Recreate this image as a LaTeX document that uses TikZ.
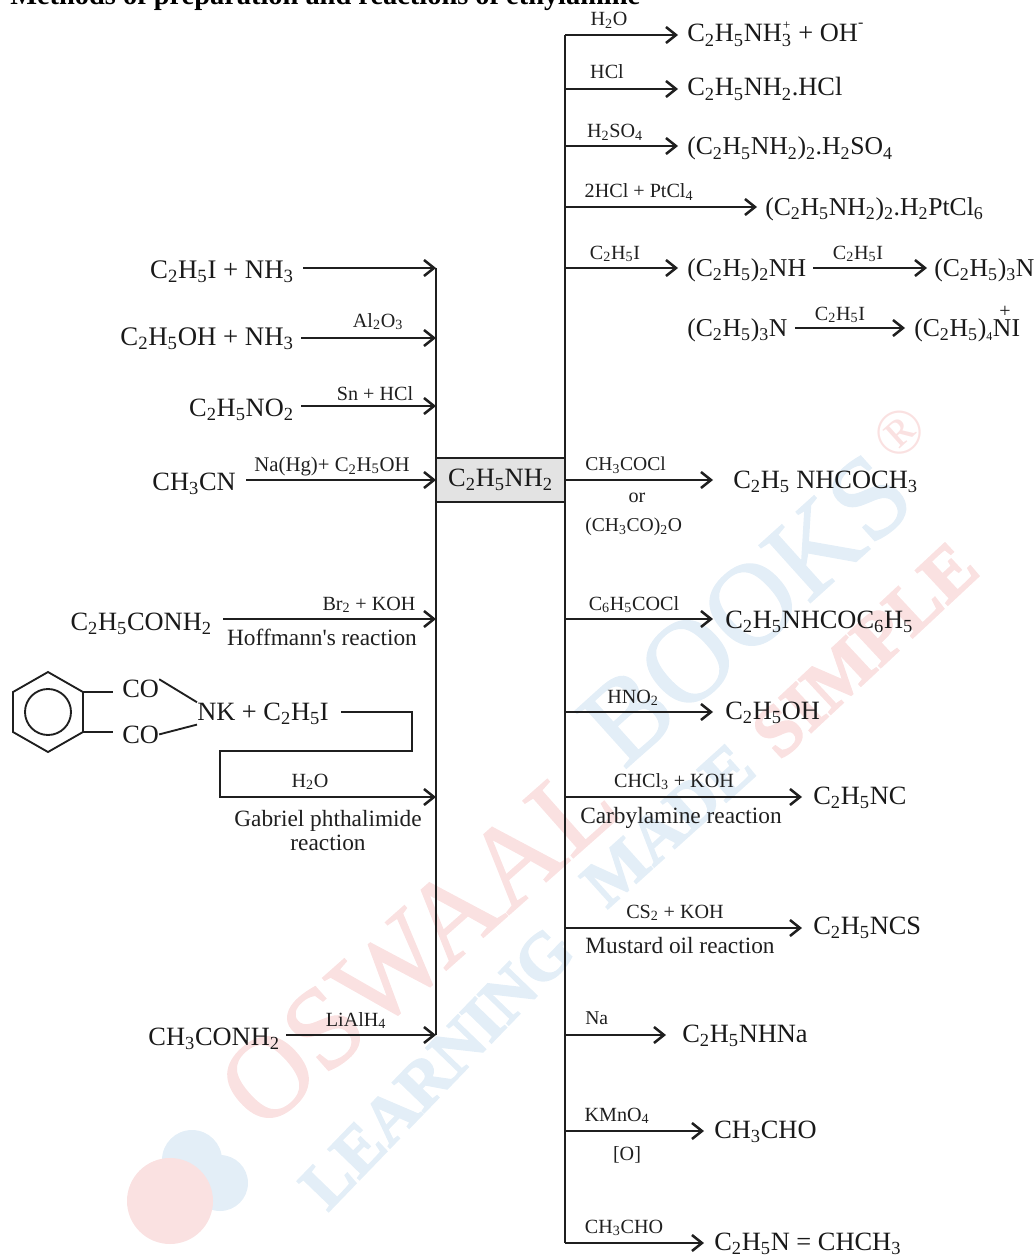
\documentclass[tikz,border=0pt]{standalone}
\usepackage{fontspec}
\setmainfont{Liberation Serif}
\newfontfamily\wmfont[UprightFont={* Bold},FakeBold=2.5]{Liberation Serif}
\newfontfamily\wmreg[FakeBold=1.2]{Liberation Serif}
\usetikzlibrary{arrows.meta}
\newcommand{\sbs}[1]{\textsubscript{#1}}
\newcommand{\fs}[1]{\fontsize{#1}{#1}\selectfont}
\definecolor{wmred}{HTML}{FAE1E1}
\definecolor{wmblue}{HTML}{E3EEF7}
\tikzset{
  ln/.style={line width=1.4pt,black!88},
  arr/.style={ln,-{Straight Barb[length=7.5pt,width=12pt,line width=1.9pt]}},
  main/.style={font=\fs{19.8},inner ysep=0pt,inner xsep=6.75pt,text=black!90},
  wide/.style={font=\fs{20.1}},
  paren/.style={font=\fs{19.25}},
  gap/.style={inner xsep=#1*0.75pt},
  lhs/.style={main,anchor=base east},
  rhs/.style={main,anchor=base west},
  lab/.style={font=\fs{15.1},inner sep=0pt,anchor=base,text=black!88,yshift=-0.75pt},
  labl/.style={font=\fs{14.7},inner sep=0pt,anchor=base west,text=black!88,yshift=-0.5pt},
  mid/.style={font=\fs{17.5},inner sep=0pt,anchor=base,text=black!88,yshift=-0.75pt},
  wm/.style={inner sep=0pt,anchor=center,rotate=#1},
}
\begin{document}
\begin{tikzpicture}[x=0.75pt,y=-0.75pt]
\useasboundingbox (0,0) rectangle (1034,1255);
\clip (0,0) rectangle (1034,1255);
% watermark
\fill[wmblue] (192,1160) circle (30);
\fill[wmblue] (220,1183) circle (28);
\fill[wmred] (170,1201) circle (43);
\node[wm=41.5,text=wmred,font=\wmreg\fs{87}] (wmA) at (418,945) {OSWAAL};
\node[wm=42,text=wmblue,font=\wmreg\fs{88}] (wmB) at (746,609) {BOOKS};
\node[wm=42,text=wmred,font=\fs{48}] (wmR) at (900,433) {®};
\node[wm=46,text=wmblue,font=\wmfont\fs{50}] (wmC) at (437,1068) {LEARNING};
\node[wm=42,text=wmblue,font=\wmfont\fs{50}] (wmE) at (668,825) {MADE};
\node[wm=43,text=wmred,font=\wmfont\fs{54}] (wmD) at (865,650) {SIMPLE};

\node[font=\bfseries\fs{21.3},inner sep=0pt,anchor=base west,text=black] (title) at (10,5) {Methods of preparation and reactions of ethylamine};

% buses
\coordinate (Ltop) at (436,268); \coordinate (Lbot) at (436,1035);
\coordinate (Rtop) at (565,35);  \coordinate (Rbot) at (565,1243);
\draw[ln] (Ltop) -- (Lbot);
\draw[ln] (Rtop) -- (Rbot);
\node[draw=black!88,line width=1.4pt,fill=black!11,minimum width=129*0.75pt,minimum height=44*0.75pt,inner sep=0pt,font=\fs{19.8},text=black!90] (amine) at (500.5,480) {C\sbs2H\sbs5NH\sbs2};

% left side
\coordinate (L1) at (436,268); \coordinate (L2) at (436,338); \coordinate (L3) at (436,406);
\coordinate (L4) at (436,480); \coordinate (L5) at (436,619); \coordinate (L6) at (436,797);
\coordinate (L7) at (436,1035);
\node[lhs,wide] (a) at (303,278) {C\sbs2H\sbs5I + NH\sbs3};
\node[lhs,wide,gap=7] (b) at (301,345) {C\sbs2H\sbs5OH + NH\sbs3};
\node[lhs,gap=7] (c) at (301,416) {C\sbs2H\sbs5NO\sbs2};
\node[lhs,gap=10] (d) at (246,490) {CH\sbs3CN};
\node[lhs,gap=11] (e) at (223,630) {C\sbs2H\sbs5CONH\sbs2};
\node[lhs,gap=6] (g) at (286,1045) {CH\sbs3CONH\sbs2};
\draw[arr] (a.east |- L1) -- (L1);
\draw[arr] (b.east |- L2) -- (L2);
\draw[arr] (c.east |- L3) -- (L3);
\draw[arr] (d.east |- L4) -- (L4);
\draw[arr] (e.east |- L5) -- (L5);
\draw[arr] (g.east |- L7) -- (L7);
\node[lab] (lb) at (378,326) {Al\sbs2O\sbs3};
\node[lab] (lc) at (375,399) {Sn + HCl};
\node[lab,font=\fs{15.6}] (ld) at (332,470) {Na(Hg)+ C\sbs2H\sbs5OH};
\node[lab] (le) at (369,609) {Br\sbs2 + KOH};
\node[mid] (le2) at (322,644) {Hoffmann\textquotesingle s reaction};
\node[lab] (lg) at (356,1025) {LiAlH\sbs4};

% phthalimide
\draw[ln] (48,672) -- (83,692) -- (83,732) -- (48,752) -- (13,732) -- (13,692) -- cycle;
\draw[ln] (48,712) circle (23);
\node[main,gap=0,anchor=base west] (co1) at (122,697) {CO};
\node[main,gap=0,anchor=base west] (co2) at (122,743) {CO};
\node[main,gap=0,anchor=base west] (nk) at (197,720) {NK + C\sbs2H\sbs5I};
\draw[ln] (83,692) -- ++(30,0);
\draw[ln] (83,732) -- ++(30,0);
\draw[ln] (co1.north east) -- (nk.north west);
\draw[ln] (co2.east) -- (nk.south west);
\draw[arr] (nk.east |- 0,712) ++(12,0) -- (412,712) -- (412,751) -- (220,751) -- (220,797) -- (L6);
\node[lab] (lf) at (310,786) {H\sbs2O};
\node[mid] (lf2) at (328,825) {Gabriel phthalimide};
\node[mid] (lf3) at (328,849) {reaction};

% right side
\coordinate (R1) at (565,35); \coordinate (R2) at (565,89); \coordinate (R3) at (565,146);
\coordinate (R4) at (565,207); \coordinate (R5) at (565,268); \coordinate (R6) at (794,328);
\coordinate (R7) at (565,480); \coordinate (R8) at (565,619); \coordinate (R9) at (565,712);
\coordinate (R10) at (565,797); \coordinate (R11) at (565,928); \coordinate (R12) at (565,1035);
\coordinate (R13) at (565,1131); \coordinate (R14) at (565,1243);
\node[rhs] (p1) at (678,42) {C\sbs2H\sbs5NH\sbs3\llap{\raisebox{1.05ex}{\fs{10}+}\hspace{1pt}} + OH\raisebox{1.2ex}{\fs{12}-}};
\node[rhs] (p2) at (678,96) {C\sbs2H\sbs5NH\sbs2.HCl};
\node[rhs,paren] (p3) at (678,155) {(C\sbs2H\sbs5NH\sbs2)\sbs2.H\sbs2SO\sbs4};
\node[rhs,paren,gap=8] (p4) at (757,215) {(C\sbs2H\sbs5NH\sbs2)\sbs2.H\sbs2PtCl\sbs6};
\node[rhs,paren] (p5) at (678,276) {(C\sbs2H\sbs5)\sbs2NH};
\node[rhs,paren,gap=7] (p6) at (927,276) {(C\sbs2H\sbs5)\sbs3N};
\node[rhs,paren] (p7) at (678,336) {(C\sbs2H\sbs5)\sbs3N};
\node[rhs,paren] (p8) at (905,336) {(C\sbs2H\sbs5)\textsubscript{\fs{9}4}\rlap{\hspace{0.25em}\raisebox{0.72em}{\fs{15}+}}NI};
\node[rhs,gap=20] (p9) at (713,488) {C\sbs2H\sbs5 NHCOCH\sbs3};
\node[rhs,gap=12] (p10) at (713,628) {C\sbs2H\sbs5NHCOC\sbs6H\sbs5};
\node[rhs,gap=12] (p11) at (713,719) {C\sbs2H\sbs5OH};
\node[rhs,gap=11] (p12) at (802,804) {C\sbs2H\sbs5NC};
\node[rhs,gap=11] (p13) at (802,934) {C\sbs2H\sbs5NCS};
\node[rhs,gap=16] (p14) at (666,1042) {C\sbs2H\sbs5NHNa};
\node[rhs,gap=10] (p15) at (704,1138) {CH\sbs3CHO};
\node[rhs,gap=10] (p16) at (704,1250) {C\sbs2H\sbs5N = CHCH\sbs3};
\draw[arr] (R1) -- (p1.west |- R1);
\draw[arr] (R2) -- (p2.west |- R2);
\draw[arr] (R3) -- (p3.west |- R3);
\draw[arr] (R4) -- (p4.west |- R4);
\draw[arr] (R5) -- (p5.west |- R5);
\draw[arr,shorten <=-1.5pt] (p5.east |- R5) -- (p6.west |- R5);
\draw[arr,shorten <=-1.5pt] (p7.east |- R6) -- (p8.west |- R6);
\draw[arr] (R7) -- (p9.west |- R7);
\draw[arr] (R8) -- (p10.west |- R8);
\draw[arr] (R9) -- (p11.west |- R9);
\draw[arr] (R10) -- (p12.west |- R10);
\draw[arr] (R11) -- (p13.west |- R11);
\draw[arr] (R12) -- (p14.west |- R12);
\draw[arr] (R13) -- (p15.west |- R13);
\draw[arr] (R14) -- (p16.west |- R14);
\node[lab] (q1) at (609,25) {H\sbs2O};
\node[lab] (q2) at (607,78) {HCl};
\node[lab] (q3) at (615,137) {H\sbs2SO\sbs4};
\node[lab] (q4) at (639,197) {2HCl + PtCl\sbs4};
\node[lab] (q5) at (615,258) {C\sbs2H\sbs5I};
\node[lab] (q6) at (858,258) {C\sbs2H\sbs5I};
\node[lab] (q7) at (840,319) {C\sbs2H\sbs5I};
\node[labl] (q8) at (585,470) {CH\sbs3COCl};
\node[lab] (q8b) at (637,501) {or};
\node[labl] (q8c) at (585,531) {(CH\sbs3CO)\sbs2O};
\node[lab] (q9) at (634,609) {C\sbs6H\sbs5COCl};
\node[lab] (q10) at (633,702) {HNO\sbs2};
\node[lab] (q11) at (674,786) {CHCl\sbs3 + KOH};
\node[mid] (q11b) at (681,822) {Carbylamine reaction};
\node[lab] (q12) at (675,917) {CS\sbs2 + KOH};
\node[mid] (q12b) at (680,952) {Mustard oil reaction};
\node[labl] (q13) at (585,1024) {Na};
\node[lab] (q14) at (617,1120) {KMnO\sbs4};
\node[lab] (q14b) at (627,1159) {[O]};
\node[lab] (q15) at (624,1232) {CH\sbs3CHO};
\end{tikzpicture}
\end{document}
